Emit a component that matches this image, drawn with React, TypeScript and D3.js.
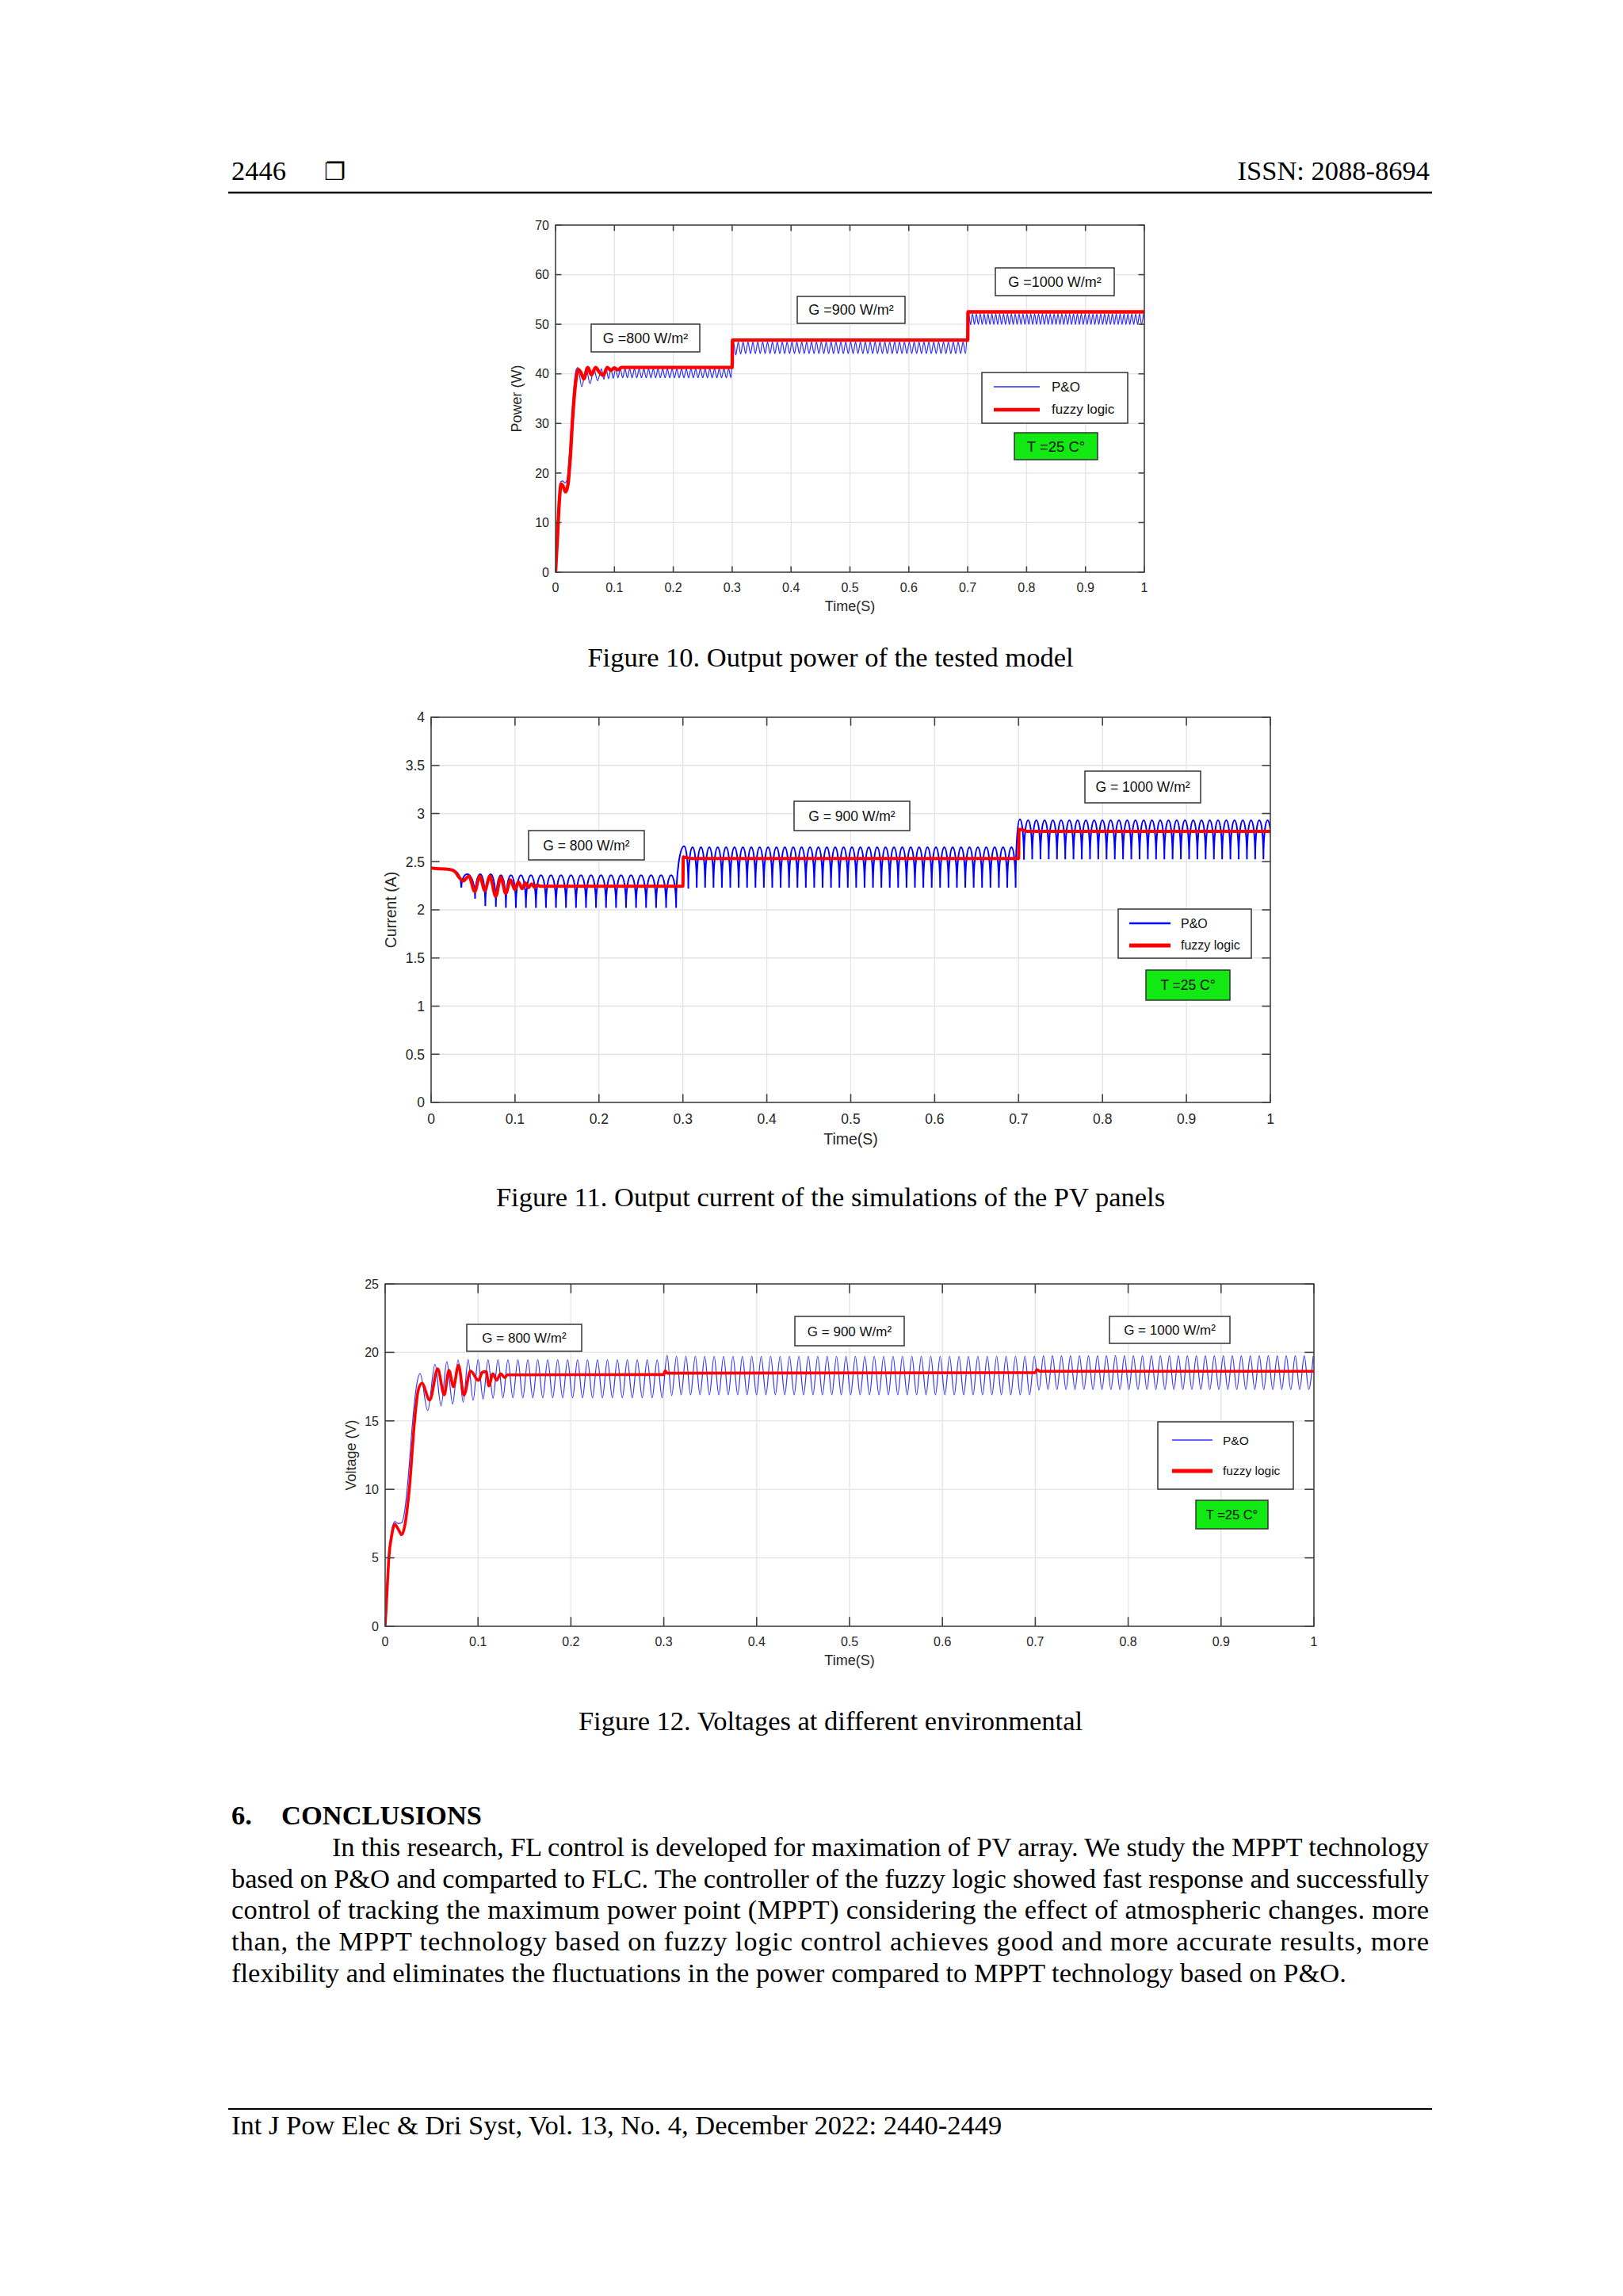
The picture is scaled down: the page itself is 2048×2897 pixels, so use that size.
import React from 'react';
import * as d3 from 'd3';

type Pt = [number, number];

interface Segment {
    t0: number;
    dt: number;
    values: number[];
}

const SANS = "'Liberation Sans', Arial, Helvetica, sans-serif";
const SERIF = "'Liberation Serif', 'Times New Roman', Times, serif";

const timeTicks = [0, 0.1, 0.2, 0.3, 0.4, 0.5, 0.6, 0.7, 0.8, 0.9, 1];
const irradianceLabels = ['800', '900', '1000'];

// ---------- Figure 10: power ----------
const powerTicks = [0, 10, 20, 30, 40, 50, 60, 70];

const powerFuzzy: Pt[] = [
    [0, 0], [0.003, 6.5], [0.006, 13.5], [0.0095, 17.8], [0.013, 17.3], [0.017, 16.2],
    [0.021, 17.6], [0.025, 23], [0.029, 31], [0.033, 37], [0.036, 39.8], [0.039, 40.85],
    [0.043, 40.3], [0.048, 39.0], [0.055, 41.3], [0.061, 39.8], [0.068, 41.3], [0.074, 40.4],
    [0.081, 39.7], [0.088, 41.3], [0.094, 40.7], [0.1, 41.2], [0.106, 40.8], [0.112, 41.3],
    [0.3, 41.3], [0.3005, 46.8], [0.7, 46.8], [0.7005, 52.5], [1, 52.5],
];

const powerPoStart: Pt[] = [
    [0, 0], [0.003, 7], [0.006, 14], [0.009, 18.3], [0.012, 18.4], [0.016, 18.0], [0.019, 18.4],
    [0.023, 23], [0.027, 30], [0.031, 37], [0.035, 40.8], [0.038, 41.3], [0.0445, 37.4],
    [0.052, 41.2], [0.0585, 38.0], [0.065, 41.0], [0.0715, 38.6], [0.078, 41.0],
];

const powerPo800: Segment = {
    t0: 0.082, dt: 0.004, values: [
        38.9, 41.0, 39.0, 41.0, 39.1, 41.0, 39.2, 41.0, 39.2, 41.0,
        39.2, 41.0, 39.2, 41.0, 39.2, 41.0, 39.2, 41.0, 39.2, 41.0,
        39.2, 41.0, 39.2, 41.0, 39.2, 41.0, 39.2, 41.0, 39.2, 41.0,
        39.2, 41.0, 39.2, 41.0, 39.2, 41.0, 39.2, 41.0, 39.2, 41.0,
        39.2, 41.0, 39.2, 41.0, 39.2, 41.0, 39.2, 41.0, 39.2, 41.0,
        39.2, 41.0, 39.2, 41.0, 39.2,
    ],
};

const powerPo900: Segment = {
    t0: 0.302, dt: 0.00415, values: [
        46.6, 43.8, 46.4, 44.0, 46.4, 44.1, 46.4, 44.1, 46.4, 44.1,
        46.4, 44.1, 46.4, 44.1, 46.4, 44.1, 46.4, 44.1, 46.4, 44.1,
        46.4, 44.1, 46.4, 44.1, 46.4, 44.1, 46.4, 44.1, 46.4, 44.1,
        46.4, 44.1, 46.4, 44.1, 46.4, 44.1, 46.4, 44.1, 46.4, 44.1,
        46.4, 44.1, 46.4, 44.1, 46.4, 44.1, 46.4, 44.1, 46.4, 44.1,
        46.4, 44.1, 46.4, 44.1, 46.4, 44.1, 46.4, 44.1, 46.4, 44.1,
        46.4, 44.1, 46.4, 44.1, 46.4, 44.1, 46.4, 44.1, 46.4, 44.1,
        46.4, 44.1, 46.4, 44.1, 46.4, 44.1, 46.4, 44.1, 46.4, 44.1,
        46.4, 44.1, 46.4, 44.1, 46.4, 44.1, 46.4, 44.1, 46.4, 44.1,
        46.4, 44.1, 46.4, 44.1, 46.4, 44.1,
    ],
};

const powerPo1000: Segment = {
    t0: 0.7015, dt: 0.0033, values: [
        52.3, 49.9, 52.1, 50.0, 52.1, 50.0, 52.1, 50.0, 52.1, 50.0,
        52.1, 50.0, 52.1, 50.0, 52.1, 50.0, 52.1, 50.0, 52.1, 50.0,
        52.1, 50.0, 52.1, 50.0, 52.1, 50.0, 52.1, 50.0, 52.1, 50.0,
        52.1, 50.0, 52.1, 50.0, 52.1, 50.0, 52.1, 50.0, 52.1, 50.0,
        52.1, 50.0, 52.1, 50.0, 52.1, 50.0, 52.1, 50.0, 52.1, 50.0,
        52.1, 50.0, 52.1, 50.0, 52.1, 50.0, 52.1, 50.0, 52.1, 50.0,
        52.1, 50.0, 52.1, 50.0, 52.1, 50.0, 52.1, 50.0, 52.1, 50.0,
        52.1, 50.0, 52.1, 50.0, 52.1, 50.0, 52.1, 50.0, 52.1, 50.0,
        52.1, 50.0, 52.1, 50.0, 52.1, 50.0, 52.1, 50.0, 52.1, 50.0,
        52.1,
    ],
};

// ---------- Figure 11: current ----------
const currentTicks = [0, 0.5, 1, 1.5, 2, 2.5, 3, 3.5, 4];

const currentFuzzy: Pt[] = [
    [0, 2.435], [0.012, 2.425], [0.022, 2.42], [0.028, 2.40], [0.034, 2.33], [0.0386, 2.30],
    [0.042, 2.33], [0.045, 2.35], [0.052, 2.19], [0.058, 2.35], [0.064, 2.20], [0.070, 2.35],
    [0.077, 2.14], [0.083, 2.34], [0.089, 2.17], [0.0945, 2.31], [0.0998, 2.21], [0.104, 2.29],
    [0.1085, 2.22], [0.112, 2.28], [0.116, 2.23], [0.1195, 2.27], [0.123, 2.235], [0.1265, 2.26],
    [0.13, 2.245], [0.3, 2.245], [0.3005, 2.55], [0.305, 2.54], [0.31, 2.533], [0.7, 2.533],
    [0.7005, 2.835], [0.705, 2.83], [0.71, 2.815], [1, 2.815],
];

const currentPoStart: Pt[] = [
    [0, 2.435], [0.012, 2.425], [0.022, 2.42], [0.028, 2.40], [0.036, 2.23], [0.043, 2.37],
    [0.0524, 2.115], [0.0586, 2.37], [0.0646, 2.04], [0.071, 2.37],
];

const currentPo800: Segment = {
    t0: 0.0772, dt: 0.005965, values: [
        2.03, 2.36, 2.02, 2.36, 2.02, 2.36, 2.02, 2.36, 2.02, 2.36,
        2.02, 2.36, 2.02, 2.36, 2.02, 2.36, 2.02, 2.36, 2.02, 2.36,
        2.02, 2.36, 2.02, 2.36, 2.02, 2.36, 2.02, 2.36, 2.02, 2.36,
        2.02, 2.36, 2.02, 2.36, 2.02, 2.36, 2.02,
    ],
};

const currentPo900: Segment = {
    t0: 0.3015, dt: 0.005, values: [
        2.66, 2.22, 2.65, 2.23, 2.65, 2.23, 2.65, 2.23, 2.65, 2.23,
        2.65, 2.23, 2.65, 2.23, 2.65, 2.23, 2.65, 2.23, 2.65, 2.23,
        2.65, 2.23, 2.65, 2.23, 2.65, 2.23, 2.65, 2.23, 2.65, 2.23,
        2.65, 2.23, 2.65, 2.23, 2.65, 2.23, 2.65, 2.23, 2.65, 2.23,
        2.65, 2.23, 2.65, 2.23, 2.65, 2.23, 2.65, 2.23, 2.65, 2.23,
        2.65, 2.23, 2.65, 2.23, 2.65, 2.23, 2.65, 2.23, 2.65, 2.23,
        2.65, 2.23, 2.65, 2.23, 2.65, 2.23, 2.65, 2.23, 2.65, 2.23,
        2.65, 2.23, 2.65, 2.23, 2.65, 2.23, 2.65, 2.23, 2.65, 2.23,
    ],
};

const currentPo1000: Segment = {
    t0: 0.7015, dt: 0.00492, values: [
        2.94, 2.52, 2.93, 2.525, 2.93, 2.525, 2.93, 2.525, 2.93, 2.525,
        2.93, 2.525, 2.93, 2.525, 2.93, 2.525, 2.93, 2.525, 2.93, 2.525,
        2.93, 2.525, 2.93, 2.525, 2.93, 2.525, 2.93, 2.525, 2.93, 2.525,
        2.93, 2.525, 2.93, 2.525, 2.93, 2.525, 2.93, 2.525, 2.93, 2.525,
        2.93, 2.525, 2.93, 2.525, 2.93, 2.525, 2.93, 2.525, 2.93, 2.525,
        2.93, 2.525, 2.93, 2.525, 2.93, 2.525, 2.93, 2.525, 2.93, 2.525,
        2.93, 2.525,
    ],
};

// ---------- Figure 12: voltage ----------
const voltageTicks = [0, 5, 10, 15, 20, 25];

const voltageFuzzy: Pt[] = [
    [0, 0], [0.002, 2.5], [0.004, 5.0], [0.007, 6.6], [0.0105, 7.45], [0.014, 7.1], [0.0178, 6.68],
    [0.021, 7.3], [0.026, 10.0], [0.0317, 15.0], [0.0355, 17.2], [0.0396, 17.75], [0.048, 16.52],
    [0.0566, 18.8], [0.0636, 16.9], [0.0687, 18.69], [0.0735, 17.49], [0.079, 19.07], [0.0848, 16.88],
    [0.0919, 18.65], [0.1005, 17.95], [0.1046, 18.55], [0.1088, 18.6], [0.1117, 17.55], [0.116, 18.45],
    [0.12, 17.97], [0.1244, 18.45], [0.1287, 18.16], [0.1315, 18.36], [0.3, 18.38], [0.3015, 18.65],
    [0.304, 18.48], [0.7, 18.52], [0.7015, 18.75], [0.705, 18.62], [1, 18.62],
];

const voltagePoStart: Pt[] = [
    [0, 0], [0.002, 2.6], [0.004, 5.2], [0.007, 7.0], [0.0105, 7.65], [0.014, 7.5], [0.0175, 7.55],
    [0.021, 8.4], [0.025, 11.0], [0.029, 14.5], [0.033, 17.2], [0.0376, 18.45], [0.0458, 15.75],
    [0.0537, 19.13], [0.0602, 16.1], [0.0664, 19.32], [0.0727, 16.23], [0.0786, 19.46],
];

const voltagePo800: Segment = {
    t0: 0.084, dt: 0.005355, values: [
        16.36, 19.47, 16.5, 19.47, 16.6, 19.47, 16.65, 19.47, 16.68, 19.47,
        16.68, 19.47, 16.68, 19.47, 16.68, 19.47, 16.68, 19.47, 16.68, 19.47,
        16.68, 19.47, 16.68, 19.47, 16.68, 19.47, 16.68, 19.47, 16.68, 19.47,
        16.68, 19.47, 16.68, 19.47, 16.68, 19.47, 16.68, 19.47, 16.68, 19.47,
        16.68,
    ],
};

const voltagePo900: Segment = {
    t0: 0.3035, dt: 0.00507, values: [
        19.78, 16.85, 19.72, 16.9, 19.72, 16.9, 19.72, 16.9, 19.72, 16.9,
        19.72, 16.9, 19.72, 16.9, 19.72, 16.9, 19.72, 16.9, 19.72, 16.9,
        19.72, 16.9, 19.72, 16.9, 19.72, 16.9, 19.72, 16.9, 19.72, 16.9,
        19.72, 16.9, 19.72, 16.9, 19.72, 16.9, 19.72, 16.9, 19.72, 16.9,
        19.72, 16.9, 19.72, 16.9, 19.72, 16.9, 19.72, 16.9, 19.72, 16.9,
        19.72, 16.9, 19.72, 16.9, 19.72, 16.9, 19.72, 16.9, 19.72, 16.9,
        19.72, 16.9, 19.72, 16.9, 19.72, 16.9, 19.72, 16.9, 19.72, 16.9,
        19.72, 16.9, 19.72, 16.9, 19.72, 16.9, 19.72, 16.9, 19.72,
    ],
};

const voltagePo1000: Segment = {
    t0: 0.704, dt: 0.00484, values: [
        17.25, 19.75, 17.29, 19.75, 17.29, 19.75, 17.29, 19.75, 17.29, 19.75,
        17.29, 19.75, 17.29, 19.75, 17.29, 19.75, 17.29, 19.75, 17.29, 19.75,
        17.29, 19.75, 17.29, 19.75, 17.29, 19.75, 17.29, 19.75, 17.29, 19.75,
        17.29, 19.75, 17.29, 19.75, 17.29, 19.75, 17.29, 19.75, 17.29, 19.75,
        17.29, 19.75, 17.29, 19.75, 17.29, 19.75, 17.29, 19.75, 17.29, 19.75,
        17.29, 19.75, 17.29, 19.75, 17.29, 19.75, 17.29, 19.75, 17.29, 19.75,
        17.29, 19.75,
    ],
};

// ---------- page text ----------
const conclusionLines = [
    'In this research, FL control is developed for maximation of PV array. We study the MPPT technology',
    'based on P&O and comparted to FLC. The controller of the fuzzy logic showed fast response and successfully',
    'control of tracking the maximum power point (MPPT) considering the effect of atmospheric changes. more',
    'than, the MPPT technology based on fuzzy logic control achieves good and more accurate results, more',
    'flexibility and eliminates the fluctuations in the power compared to MPPT technology based on P&O.',
];

const sampled = (seg: Segment): Pt[] => seg.values.map((v, i) => [seg.t0 + i * seg.dt, v] as Pt);

// P&O traces of figure 11 have round tops and sharp bottoms
function curveArch(context: any) {
    let px = NaN, py = NaN, started = false;
    return {
        areaStart() {},
        areaEnd() {},
        lineStart() { started = false; },
        lineEnd() {},
        point(x: number, y: number) {
            if (!started) {
                context.moveTo(x, y);
                started = true;
            } else {
                const k = 0.55;
                if (y > py) context.bezierCurveTo(px + k * (x - px), py, x, y - k * (y - py), x, y);
                else context.bezierCurveTo(px, py + k * (y - py), x - k * (x - px), y, x, y);
            }
            px = x;
            py = y;
        },
    };
}

interface Box { x: number; y: number; w: number; h: number; }

interface ChartCfg {
    id: string;
    frame: { left: number; top: number; width: number; height: number };
    yDomain: [number, number];
    yTicks: number[];
    yLabel: string;
    yLabelX: number;
    fuzzy: Pt[];
    po: Pt[];
    poCurve: any;
    poColor: string;
    poWidth: number;
    fuzzyWidth: number;
    tickFont: number;
    labelFont: number;
    boxFont: number;
    boxPrefix: string;
    boxes: Box[];
    legend: Box & { lineX1: number; lineX2: number; y1: number; y2: number; textX: number; font: number; poW: number; fzW: number };
    tBox: Box & { font: number };
}

const SimChart: React.FC<{ cfg: ChartCfg }> = ({ cfg }) => {
    const { left, top, width, height } = cfg.frame;
    const x = d3.scaleLinear().domain([0, 1]).range([left, left + width]);
    const y = d3.scaleLinear().domain(cfg.yDomain).range([top + height, top]);
    const tickLen = width * 0.01;
    const axisColor = '#444';
    const textColor = '#262626';

    const blueLine = d3.line<Pt>().x(d => x(d[0])).y(d => y(d[1])).curve(cfg.poCurve);
    const redLine = d3.line<Pt>().x(d => x(d[0])).y(d => y(d[1])).curve(d3.curveMonotoneX);
    const clipId = `clip-${cfg.id}`;
    const lg = cfg.legend;
    const tb = cfg.tBox;

    return (
        <g>
            <defs>
                <clipPath id={clipId}>
                    <rect x={left} y={top} width={width} height={height} />
                </clipPath>
            </defs>
            <rect x={left} y={top} width={width} height={height} fill="#fff" />

            {/* grid */}
            {timeTicks.map(t => (
                <line key={`gx${t}`} x1={x(t)} x2={x(t)} y1={top} y2={top + height} stroke="#e3e3e3" strokeWidth={1.3} />
            ))}
            {cfg.yTicks.map(v => (
                <line key={`gy${v}`} x1={left} x2={left + width} y1={y(v)} y2={y(v)} stroke="#e3e3e3" strokeWidth={1.3} />
            ))}

            <g clipPath={`url(#${clipId})`}>
                <path d={blueLine(cfg.po) || ''} fill="none" stroke={cfg.poColor} strokeWidth={cfg.poWidth} />
                <path d={redLine(cfg.fuzzy) || ''} fill="none" stroke="#ff0000" strokeWidth={cfg.fuzzyWidth} strokeLinejoin="round" />
            </g>

            {/* box with inward ticks on every side */}
            <rect x={left} y={top} width={width} height={height} fill="none" stroke={axisColor} strokeWidth={1.6} />
            {timeTicks.map(t => (
                <g key={`tx${t}`}>
                    <line x1={x(t)} x2={x(t)} y1={top + height} y2={top + height - tickLen} stroke={axisColor} strokeWidth={1.6} />
                    <line x1={x(t)} x2={x(t)} y1={top} y2={top + tickLen} stroke={axisColor} strokeWidth={1.6} />
                    <text x={x(t)} y={top + height + cfg.tickFont * 1.55} textAnchor="middle" fontSize={cfg.tickFont} fill={textColor}>{t}</text>
                </g>
            ))}
            {cfg.yTicks.map(v => (
                <g key={`ty${v}`}>
                    <line x1={left} x2={left + tickLen} y1={y(v)} y2={y(v)} stroke={axisColor} strokeWidth={1.6} />
                    <line x1={left + width} x2={left + width - tickLen} y1={y(v)} y2={y(v)} stroke={axisColor} strokeWidth={1.6} />
                    <text x={left - 8} y={y(v)} dy="0.36em" textAnchor="end" fontSize={cfg.tickFont} fill={textColor}>{v}</text>
                </g>
            ))}
            <text x={left + width / 2} y={top + height + cfg.tickFont * 1.55 + cfg.labelFont * 1.35} textAnchor="middle" fontSize={cfg.labelFont} fill={textColor}>Time(S)</text>
            <text transform={`translate(${cfg.yLabelX},${top + height / 2}) rotate(-90)`} textAnchor="middle" dy="0.35em" fontSize={cfg.labelFont} fill={textColor}>{cfg.yLabel}</text>

            {/* irradiance annotations */}
            {cfg.boxes.map((b, i) => (
                <g key={`box${i}`}>
                    <rect x={b.x} y={b.y} width={b.w} height={b.h} fill="#fff" stroke="#333" strokeWidth={1.5} />
                    <text x={b.x + b.w / 2} y={b.y + b.h / 2} dy="0.36em" textAnchor="middle" fontSize={cfg.boxFont} fill="#111">
                        {`${cfg.boxPrefix}${irradianceLabels[i]} W/m²`}
                    </text>
                </g>
            ))}

            {/* legend */}
            <rect x={lg.x} y={lg.y} width={lg.w} height={lg.h} fill="#fff" stroke="#333" strokeWidth={1.5} />
            <line x1={lg.lineX1} x2={lg.lineX2} y1={lg.y1} y2={lg.y1} stroke={cfg.poColor} strokeWidth={lg.poW} />
            <line x1={lg.lineX1} x2={lg.lineX2} y1={lg.y2} y2={lg.y2} stroke="#ff0000" strokeWidth={lg.fzW} />
            <text x={lg.textX} y={lg.y1} dy="0.36em" fontSize={lg.font} fill="#111">P&amp;O</text>
            <text x={lg.textX} y={lg.y2} dy="0.3em" fontSize={lg.font} fill="#111">fuzzy logic</text>

            {/* temperature tag */}
            <rect x={tb.x} y={tb.y} width={tb.w} height={tb.h} fill="#12e812" stroke="#333" strokeWidth={1.5} />
            <text x={tb.x + tb.w / 2} y={tb.y + tb.h / 2} dy="0.36em" textAnchor="middle" fontSize={tb.font} fill="#111">T =25 C°</text>
        </g>
    );
};

const charts: ChartCfg[] = [
    {
        id: 'power',
        frame: { left: 701, top: 284, width: 743, height: 438 },
        yDomain: [0, 70],
        yTicks: powerTicks,
        yLabel: 'Power (W)',
        yLabelX: 652,
        fuzzy: powerFuzzy,
        po: [...powerPoStart, ...sampled(powerPo800), ...sampled(powerPo900), ...sampled(powerPo1000)],
        poCurve: d3.curveMonotoneX,
        poColor: '#2b2bff',
        poWidth: 1.2,
        fuzzyWidth: 4.3,
        tickFont: 16,
        labelFont: 18,
        boxFont: 18,
        boxPrefix: 'G =',
        boxes: [
            { x: 746, y: 409, w: 137, h: 35 },
            { x: 1006, y: 374, w: 136, h: 34 },
            { x: 1256, y: 338, w: 150, h: 35 },
        ],
        legend: { x: 1239, y: 470, w: 184, h: 64, lineX1: 1254, lineX2: 1312, y1: 488, y2: 517, textX: 1327, font: 17, poW: 1.5, fzW: 4.5 },
        tBox: { x: 1280, y: 546, w: 105, h: 34, font: 18.5 },
    },
    {
        id: 'current',
        frame: { left: 544, top: 905, width: 1059, height: 486 },
        yDomain: [0, 4],
        yTicks: currentTicks,
        yLabel: 'Current (A)',
        yLabelX: 493,
        fuzzy: currentFuzzy,
        po: [...currentPoStart, ...sampled(currentPo800), ...sampled(currentPo900), ...sampled(currentPo1000)],
        poCurve: curveArch,
        poColor: '#0000ff',
        poWidth: 2,
        fuzzyWidth: 4,
        tickFont: 17.5,
        labelFont: 19.5,
        boxFont: 17.5,
        boxPrefix: 'G = ',
        boxes: [
            { x: 667, y: 1048, w: 146, h: 37 },
            { x: 1002, y: 1011, w: 146, h: 37 },
            { x: 1369, y: 973, w: 146, h: 40 },
        ],
        legend: { x: 1411, y: 1147, w: 168, h: 62, lineX1: 1425, lineX2: 1477, y1: 1165, y2: 1193, textX: 1490, font: 16, poW: 2.5, fzW: 5 },
        tBox: { x: 1446, y: 1224, w: 106, h: 38, font: 17.5 },
    },
    {
        id: 'voltage',
        frame: { left: 486, top: 1620, width: 1172, height: 432 },
        yDomain: [0, 25],
        yTicks: voltageTicks,
        yLabel: 'Voltage (V)',
        yLabelX: 443,
        fuzzy: voltageFuzzy,
        po: [...voltagePoStart, ...sampled(voltagePo800), ...sampled(voltagePo900), ...sampled(voltagePo1000)],
        poCurve: d3.curveMonotoneX,
        poColor: '#3333ff',
        poWidth: 1.2,
        fuzzyWidth: 3.6,
        tickFont: 16,
        labelFont: 18,
        boxFont: 17,
        boxPrefix: 'G = ',
        boxes: [
            { x: 589, y: 1671, w: 145, h: 34 },
            { x: 1003, y: 1661, w: 138, h: 37 },
            { x: 1400, y: 1661, w: 152, h: 34 },
        ],
        legend: { x: 1461, y: 1794, w: 171, h: 85, lineX1: 1479, lineX2: 1530, y1: 1817, y2: 1856, textX: 1543, font: 15.5, poW: 1.5, fzW: 5 },
        tBox: { x: 1509, y: 1893, w: 91, h: 36, font: 16.5 },
    },
];

const captions = [
    { text: 'Figure 10. Output power of the tested model', y: 841 },
    { text: 'Figure 11. Output current of the simulations of the PV panels', y: 1522 },
    { text: 'Figure 12. Voltages at different environmental', y: 2183 },
];

export default function App() {
    const marginL = 292;
    const marginR = 1803;
    const bodySize = 34.5;
    const firstBaseline = 2342;
    const lineGap = 39.7;

    return (
        <div style={{ position: 'absolute', left: 0, top: 0, background: '#fff' }}>
            <svg width={2048} height={2897} viewBox="0 0 2048 2897" style={{ display: 'block', background: '#fff' }}>
                <rect x={0} y={0} width={2048} height={2897} fill="#fff" />

                {/* running header */}
                <g fontFamily={SERIF} fontSize={bodySize} fill="#000">
                    <text x={marginL} y={227}>2446</text>
                    <text x={409} y={227} fontFamily="'DejaVu Sans', sans-serif" fontSize={30}>❐</text>
                    <text x={marginR + 1} y={227} textAnchor="end">ISSN: 2088-8694</text>
                </g>
                <line x1={288} x2={1807} y1={243} y2={243} stroke="#000" strokeWidth={2.6} />

                <g fontFamily={SANS}>
                    {charts.map(c => <SimChart key={c.id} cfg={c} />)}
                </g>

                <g fontFamily={SERIF} fontSize={bodySize} fill="#000">
                    {captions.map(c => (
                        <text key={c.text} x={1048} y={c.y} textAnchor="middle">{c.text}</text>
                    ))}

                    <text x={marginL} y={2302} fontWeight="bold">6.</text>
                    <text x={355} y={2302} fontWeight="bold">CONCLUSIONS</text>

                    {conclusionLines.map((line, i) => {
                        const x0 = i === 0 ? 419 : marginL;
                        const justify = i < conclusionLines.length - 1;
                        return (
                            <text
                                key={i}
                                x={x0}
                                y={firstBaseline + i * lineGap}
                                textLength={justify ? marginR - x0 : undefined}
                                lengthAdjust={justify ? 'spacing' : undefined}
                            >
                                {line}
                            </text>
                        );
                    })}
                </g>

                {/* running footer */}
                <line x1={288} x2={1807} y1={2661} y2={2661} stroke="#000" strokeWidth={2.2} />
                <text x={marginL} y={2693} fontFamily={SERIF} fontSize={bodySize} fill="#000">
                    Int J Pow Elec &amp; Dri Syst, Vol. 13, No. 4, December 2022: 2440-2449
                </text>
            </svg>
        </div>
    );
}
